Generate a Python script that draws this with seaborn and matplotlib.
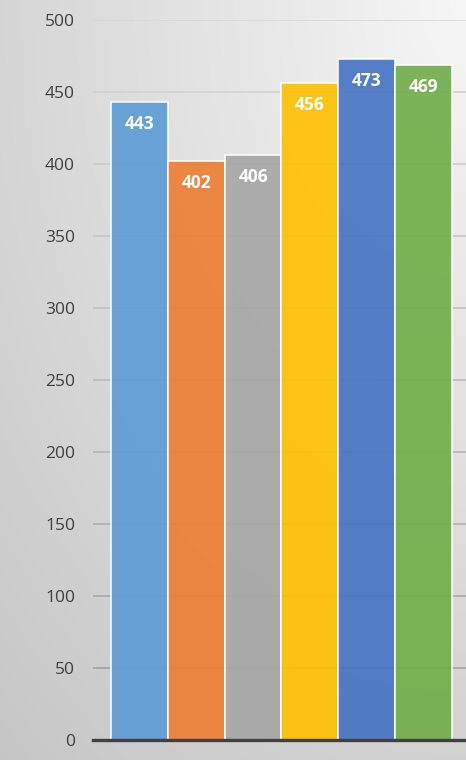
import numpy as np
import pandas as pd
import matplotlib
matplotlib.use("Agg")
import matplotlib.pyplot as plt
import seaborn as sns

# chart data
categories = ["A", "B", "C", "D", "E", "F"]
values = [443, 402, 406, 456, 473, 469]
colors = ["#5B9BD5", "#ED7D31", "#A5A5A5", "#FFC000", "#4472C4", "#70AD47"]
y_ticks = [0, 50, 100, 150, 200, 250, 300, 350, 400, 450, 500]

sns.set_theme(style="white")
plt.rcParams["font.family"] = ["Open Sans", "DejaVu Sans"]

W, H = 466, 760
fig = plt.figure(figsize=(W / 100, H / 100), dpi=100)

# diagonal grey gradient backdrop: light top-right, darker bottom-left
bg = fig.add_axes([0, 0, 1, 1], zorder=0)
gx, gy = np.meshgrid(np.linspace(0, 1, 200), np.linspace(0, 1, 300))
dist = np.sqrt((1 - gx) ** 2 * 0.8 + gy ** 2) / np.sqrt(1.8)
shade = 0.965 - 0.19 * dist
rgb = np.dstack([shade, shade, shade])
bg.imshow(rgb, extent=[0, 1, 0, 1], aspect="auto", origin="upper")
bg.set_axis_off()

ax = fig.add_axes([93 / W, 20 / H, 1 - 93 / W, 720 / H], zorder=1)
ax.set_facecolor("none")

df = pd.DataFrame({"cat": categories, "val": values})
sns.barplot(data=df, x="cat", y="val", hue="cat", palette=colors,
            saturation=1, width=1.0, edgecolor="white", linewidth=1.2,
            alpha=0.9, legend=False, ax=ax, zorder=3)

ax.set_xlim(-0.5 - 18 / 57, 5.5 + 14 / 57)
ax.set_ylim(0, 500)
ax.set_yticks(y_ticks)
ax.set_xticks([])
ax.set_xlabel("")
ax.set_ylabel("")
ax.tick_params(axis="y", length=0, pad=13, labelsize=12.5, labelcolor="#404040")

# horizontal gridlines, slightly darker toward the bottom
for t in y_ticks[1:]:
    g = 0.60 + 0.24 * (t / 500)
    ax.axhline(t, color=(g, g, g), linewidth=1.1, zorder=1)

for s in ["top", "right", "left"]:
    ax.spines[s].set_visible(False)
ax.spines["bottom"].set_color("#404040")
ax.spines["bottom"].set_linewidth(2.4)
ax.spines["bottom"].set_zorder(5)

for i, v in enumerate(values):
    ax.text(i, v - 15.3, f"{v}", ha="center", va="center", color="white",
            fontsize=12.5, fontweight="bold", zorder=6)

fig.savefig("out.png", dpi=100)
